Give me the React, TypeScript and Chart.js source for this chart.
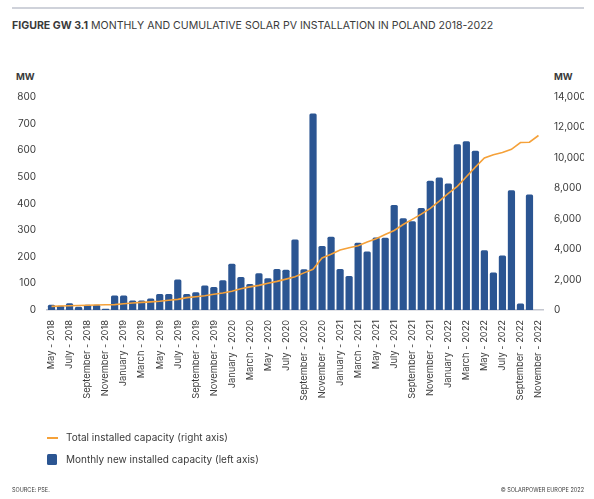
import { useEffect, useRef } from 'react';
import { Chart, registerables } from 'chart.js';

Chart.register(...registerables);

// monthly categories, May 2018 - November 2022
const months = [
  'May - 2018', 'June - 2018', 'July - 2018', 'August - 2018', 'September - 2018', 'October - 2018', 'November - 2018', 'December - 2018',
  'January - 2019', 'February - 2019', 'March - 2019', 'April - 2019', 'May - 2019', 'June - 2019', 'July - 2019', 'August - 2019',
  'September - 2019', 'October - 2019', 'November - 2019', 'December - 2019',
  'January - 2020', 'February - 2020', 'March - 2020', 'April - 2020', 'May - 2020', 'June - 2020', 'July - 2020', 'August - 2020',
  'September - 2020', 'October - 2020', 'November - 2020', 'December - 2020',
  'January - 2021', 'February - 2021', 'March - 2021', 'April - 2021', 'May - 2021', 'June - 2021', 'July - 2021', 'August - 2021',
  'September - 2021', 'October - 2021', 'November - 2021', 'December - 2021',
  'January - 2022', 'February - 2022', 'March - 2022', 'April - 2022', 'May - 2022', 'June - 2022', 'July - 2022', 'August - 2022',
  'September - 2022', 'October - 2022', 'November - 2022',
];

// MW, left axis
const monthlyNew = [
  20, 16, 25, 12, 20, 20, 5, 54,
  54, 36, 36, 43, 60, 60, 115, 60, 67, 92, 86, 112,
  174, 124, 98, 138, 119, 154, 151, 265, 153, 738, 240, 275,
  154, 128, 253, 220, 272, 271, 394, 345, 333, 383, 485, 498,
  475, 623, 634, 598, 224, 141, 205, 450, 24, 434, null,
];

// MW, right axis
const totalCapacity = [
  240, 260, 275, 300, 310, 330, 350, 355,
  410, 465, 500, 535, 580, 640, 700, 815, 875, 940, 1030, 1120,
  1230, 1400, 1520, 1620, 1760, 1880, 2030, 2180, 2440, 2680, 3420, 3660,
  3940, 4090, 4220, 4470, 4690, 4960, 5230, 5620, 5960, 6300, 6680, 7160,
  7660, 8130, 8760, 9390, 9990, 10210, 10350, 10560, 11010, 11030, 11470,
];

const BLUE = '#2B5592';
const ORANGE = '#F5A139';
const TEXT = '#3a3a3a';
const FONT = 'Inter, "Noto Sans", sans-serif';

export default function App() {
  const canvasRef = useRef<HTMLCanvasElement>(null);

  useEffect(() => {
    if (!canvasRef.current) return;
    const chart = new Chart(canvasRef.current, {
      type: 'bar',
      data: {
        labels: months,
        datasets: [
          {
            type: 'line',
            label: 'Total installed capacity (right axis)',
            data: totalCapacity,
            borderColor: ORANGE,
            borderWidth: 1.6,
            pointRadius: 0,
            tension: 0,
            yAxisID: 'y2',
            order: 0,
          },
          {
            type: 'bar',
            label: 'Monthly new installed capacity (left axis)',
            data: monthlyNew,
            backgroundColor: BLUE,
            borderRadius: { topLeft: 1.5, topRight: 1.5, bottomLeft: 0, bottomRight: 0 },
            borderSkipped: 'bottom',
            barPercentage: 0.8,
            categoryPercentage: 1,
            yAxisID: 'y',
            order: 1,
          },
        ],
      },
      options: {
        animation: false,
        responsive: true,
        maintainAspectRatio: false,
        layout: { padding: { left: 15, right: 10, top: 97, bottom: 0 } },
        plugins: { legend: { display: false }, tooltip: { enabled: false } },
        scales: {
          x: {
            type: 'category',
            grid: { display: false, drawTicks: false },
            border: { display: true, color: '#c3c6cf', width: 1.5 },
            afterFit: (s: any) => { s.height = 189; },
            ticks: {
              autoSkip: false,
              minRotation: 90,
              maxRotation: 90,
              padding: 10,
              color: TEXT,
              font: { family: FONT, size: 9.3 },
              callback: (_v: any, i: number) => (i % 2 === 0 ? months[i] : ''),
            },
          },
          y: {
            position: 'left',
            min: 0,
            max: 800,
            grid: { display: false, drawTicks: false },
            border: { display: false },
            afterFit: (s: any) => { s.width = 32; },
            ticks: {
              stepSize: 100,
              padding: 11,
              color: TEXT,
              font: { family: FONT, size: 10 },
            },
          },
          y2: {
            position: 'right',
            min: 0,
            max: 14000,
            grid: { display: false, drawTicks: false },
            border: { display: false },
            afterFit: (s: any) => { s.width = 41; },
            ticks: {
              stepSize: 2000,
              padding: 11,
              color: TEXT,
              font: { family: FONT, size: 10 },
              callback: (v: any) => Number(v).toLocaleString('en-US'),
            },
          },
        },
      },
    });
    return () => chart.destroy();
  }, []);

  const abs = (s: any) => ({ position: 'absolute', ...s });

  return (
    <div style={{ position: 'absolute', left: 0, top: 0, width: 594, height: 499, background: '#fff', fontFamily: FONT, color: TEXT }}>
      <div style={abs({ left: 12, top: 7, width: 572, height: 1.5, background: '#cfd2da' })} />
      <div style={abs({ left: 12, top: 19, fontSize: 10.6, whiteSpace: 'nowrap' })}>
        <b>FIGURE GW 3.1</b> MONTHLY AND CUMULATIVE SOLAR PV INSTALLATION IN POLAND 2018-2022
      </div>
      <div style={abs({ left: 16, top: 71, fontSize: 9.5, fontWeight: 700 })}>MW</div>
      <div style={abs({ left: 554, top: 71, fontSize: 9.5, fontWeight: 700 })}>MW</div>
      <div style={abs({ left: 0, top: 0, width: 594, height: 499 })}>
        <canvas ref={canvasRef} />
      </div>
      <div style={abs({ left: 47, top: 437, width: 11, height: 1.8, background: ORANGE })} />
      <div style={abs({ left: 66, top: 431, fontSize: 10, whiteSpace: 'nowrap' })}>Total installed capacity (right axis)</div>
      <div style={abs({ left: 47, top: 454, width: 10, height: 11, background: BLUE, borderRadius: 1.5 })} />
      <div style={abs({ left: 66, top: 453, fontSize: 10, whiteSpace: 'nowrap' })}>Monthly new installed capacity (left axis)</div>
      <div style={abs({ left: 12, top: 487, fontSize: 5.5, whiteSpace: 'nowrap' })}>SOURCE: PSE.</div>
      <div style={abs({ right: 10, top: 487, fontSize: 5.5, whiteSpace: 'nowrap' })}>© SOLARPOWER EUROPE 2022</div>
    </div>
  );
}
